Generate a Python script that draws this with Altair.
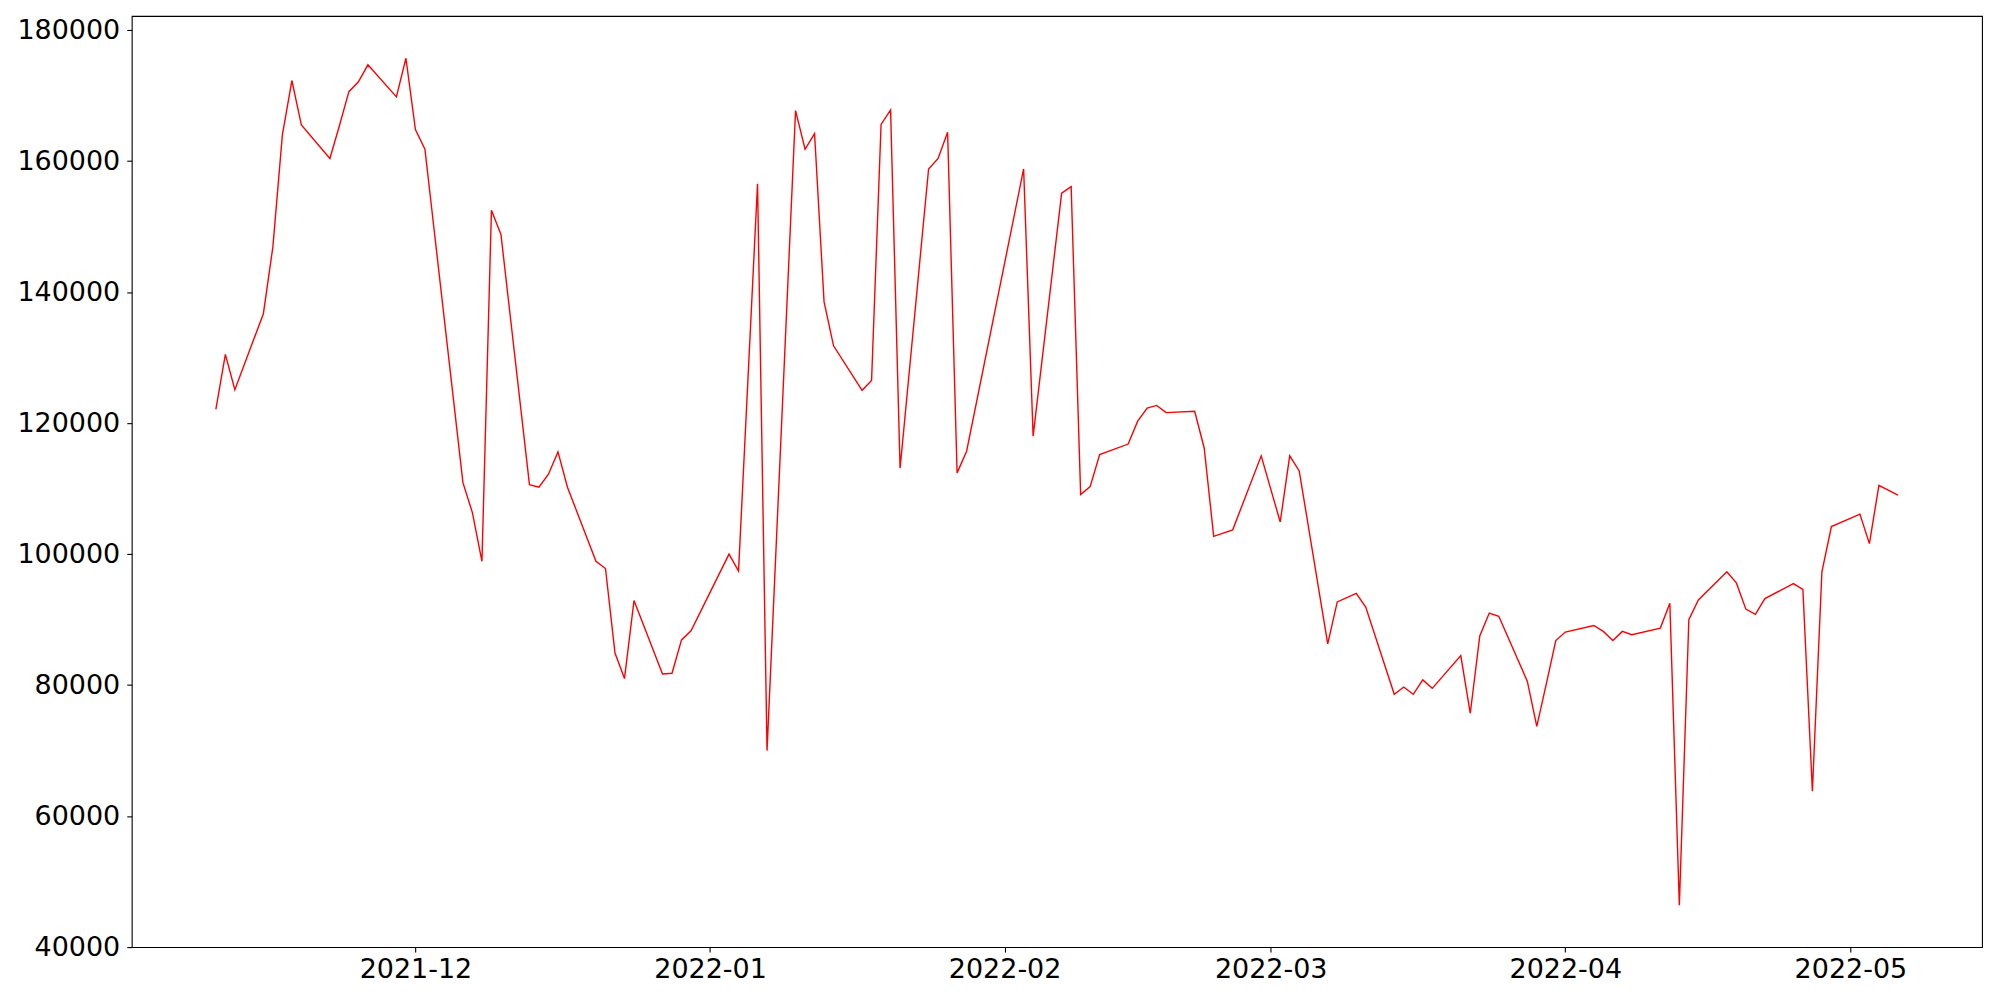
import altair as alt
import pandas as pd

# Trading dates (Korean market calendar) and observed values
dates = [
    "2021-11-10", "2021-11-11", "2021-11-12", "2021-11-15", "2021-11-16", "2021-11-17",
    "2021-11-18", "2021-11-19", "2021-11-22", "2021-11-23", "2021-11-24", "2021-11-25",
    "2021-11-26", "2021-11-29", "2021-11-30", "2021-12-01", "2021-12-02", "2021-12-03",
    "2021-12-06", "2021-12-07", "2021-12-08", "2021-12-09", "2021-12-10", "2021-12-13",
    "2021-12-14", "2021-12-15", "2021-12-16", "2021-12-17", "2021-12-20", "2021-12-21",
    "2021-12-22", "2021-12-23", "2021-12-24", "2021-12-27", "2021-12-28", "2021-12-29",
    "2021-12-30", "2022-01-03", "2022-01-04", "2022-01-06", "2022-01-07", "2022-01-10",
    "2022-01-11", "2022-01-12", "2022-01-13", "2022-01-14", "2022-01-17", "2022-01-18",
    "2022-01-19", "2022-01-20", "2022-01-21", "2022-01-24", "2022-01-25", "2022-01-26",
    "2022-01-27", "2022-01-28", "2022-02-03", "2022-02-04", "2022-02-07", "2022-02-08",
    "2022-02-09", "2022-02-10", "2022-02-11", "2022-02-14", "2022-02-15", "2022-02-16",
    "2022-02-17", "2022-02-18", "2022-02-21", "2022-02-22", "2022-02-23", "2022-02-24",
    "2022-02-25", "2022-02-28", "2022-03-02", "2022-03-03", "2022-03-04", "2022-03-07",
    "2022-03-08", "2022-03-10", "2022-03-11", "2022-03-14", "2022-03-15", "2022-03-16",
    "2022-03-17", "2022-03-18", "2022-03-21", "2022-03-22", "2022-03-23", "2022-03-24",
    "2022-03-25", "2022-03-28", "2022-03-29", "2022-03-30", "2022-03-31", "2022-04-01",
    "2022-04-04", "2022-04-05", "2022-04-06", "2022-04-07", "2022-04-08", "2022-04-11",
    "2022-04-12", "2022-04-13", "2022-04-14", "2022-04-15", "2022-04-18", "2022-04-19",
    "2022-04-20", "2022-04-21", "2022-04-22", "2022-04-25", "2022-04-26", "2022-04-27",
    "2022-04-28", "2022-04-29", "2022-05-02", "2022-05-03", "2022-05-04", "2022-05-06",
]

values = [
    122100, 130500, 125100, 136700, 146900, 164000,
    172300, 165500, 160400, 165400, 170600, 172100,
    174700, 169800, 175700, 164800, 161800, 149100,
    110900, 106300, 98900, 152500, 148800, 110600,
    110200, 112200, 115600, 110200, 98900, 97800,
    84900, 81000, 92900, 81700, 81800, 86900,
    88300, 100000, 97400, 156550, 70000, 167700,
    161800, 164200, 138500, 131800, 125000, 126500,
    165600, 167800, 113100, 158800, 160400, 164400,
    112400, 115700, 158800, 118000, 155100, 156100,
    109100, 110300, 115200, 116800, 120300, 122300,
    122700, 121600, 121800, 116200, 102700, 103200,
    103700, 115000, 104900, 115000, 112700, 86300,
    92700, 94000, 91900, 78600, 79700, 78600,
    80800, 79500, 84500, 75700, 87500, 91000,
    90500, 80600, 73700, 80200, 86800, 88100,
    89100, 88200, 86800, 88200, 87700, 88700,
    92500, 46400, 90000, 93000, 97300, 95600,
    91600, 90800, 93200, 95500, 94600, 63800,
    97300, 104200, 106100, 101600, 110500, 109000,
]

y_ticks = [40000, 60000, 80000, 100000, 120000, 140000, 160000, 180000]
x_tick_months = [(2021, 12), (2022, 1), (2022, 2), (2022, 3), (2022, 4), (2022, 5)]

df = pd.DataFrame({"date": [d + "T00:00:00" for d in dates], "value": values})

x_tick_values = [alt.DateTime(year=y, month=m, date=1) for (y, m) in x_tick_months]

x_domain = [
    alt.DateTime(year=2021, month=11, date=1, hours=3, minutes=36),
    alt.DateTime(year=2022, month=5, date=14, hours=20, minutes=24),
]

chart = (
    alt.Chart(df)
    .mark_line(color="#ff0000", strokeWidth=1.4)
    .encode(
        x=alt.X(
            "date:T",
            scale=alt.Scale(domain=x_domain, nice=False),
            axis=alt.Axis(values=x_tick_values, format="%Y-%m", title=None,
                          labelPadding=4),
        ),
        y=alt.Y(
            "value:Q",
            scale=alt.Scale(domain=[40000, 182150], nice=False, zero=False),
            axis=alt.Axis(values=y_ticks, format="d", title=None, labelPadding=7),
        ),
    )
    .properties(
        width=1854,
        height=933,
        autosize=alt.AutoSizeParams(type="none"),
        padding={"left": 124, "top": 7, "right": 10, "bottom": 60},
        background="white",
    )
    .configure_view(stroke="black", strokeWidth=1.1)
    .configure_axis(
        grid=False,
        domain=False,
        ticks=True,
        tickColor="black",
        tickSize=5,
        tickWidth=1.1,
        labelFont="DejaVu Sans",
        labelFontSize=27,
        labelColor="black",
    )
)

chart.save("out.html", embed_options={"renderer": "svg", "actions": False})
